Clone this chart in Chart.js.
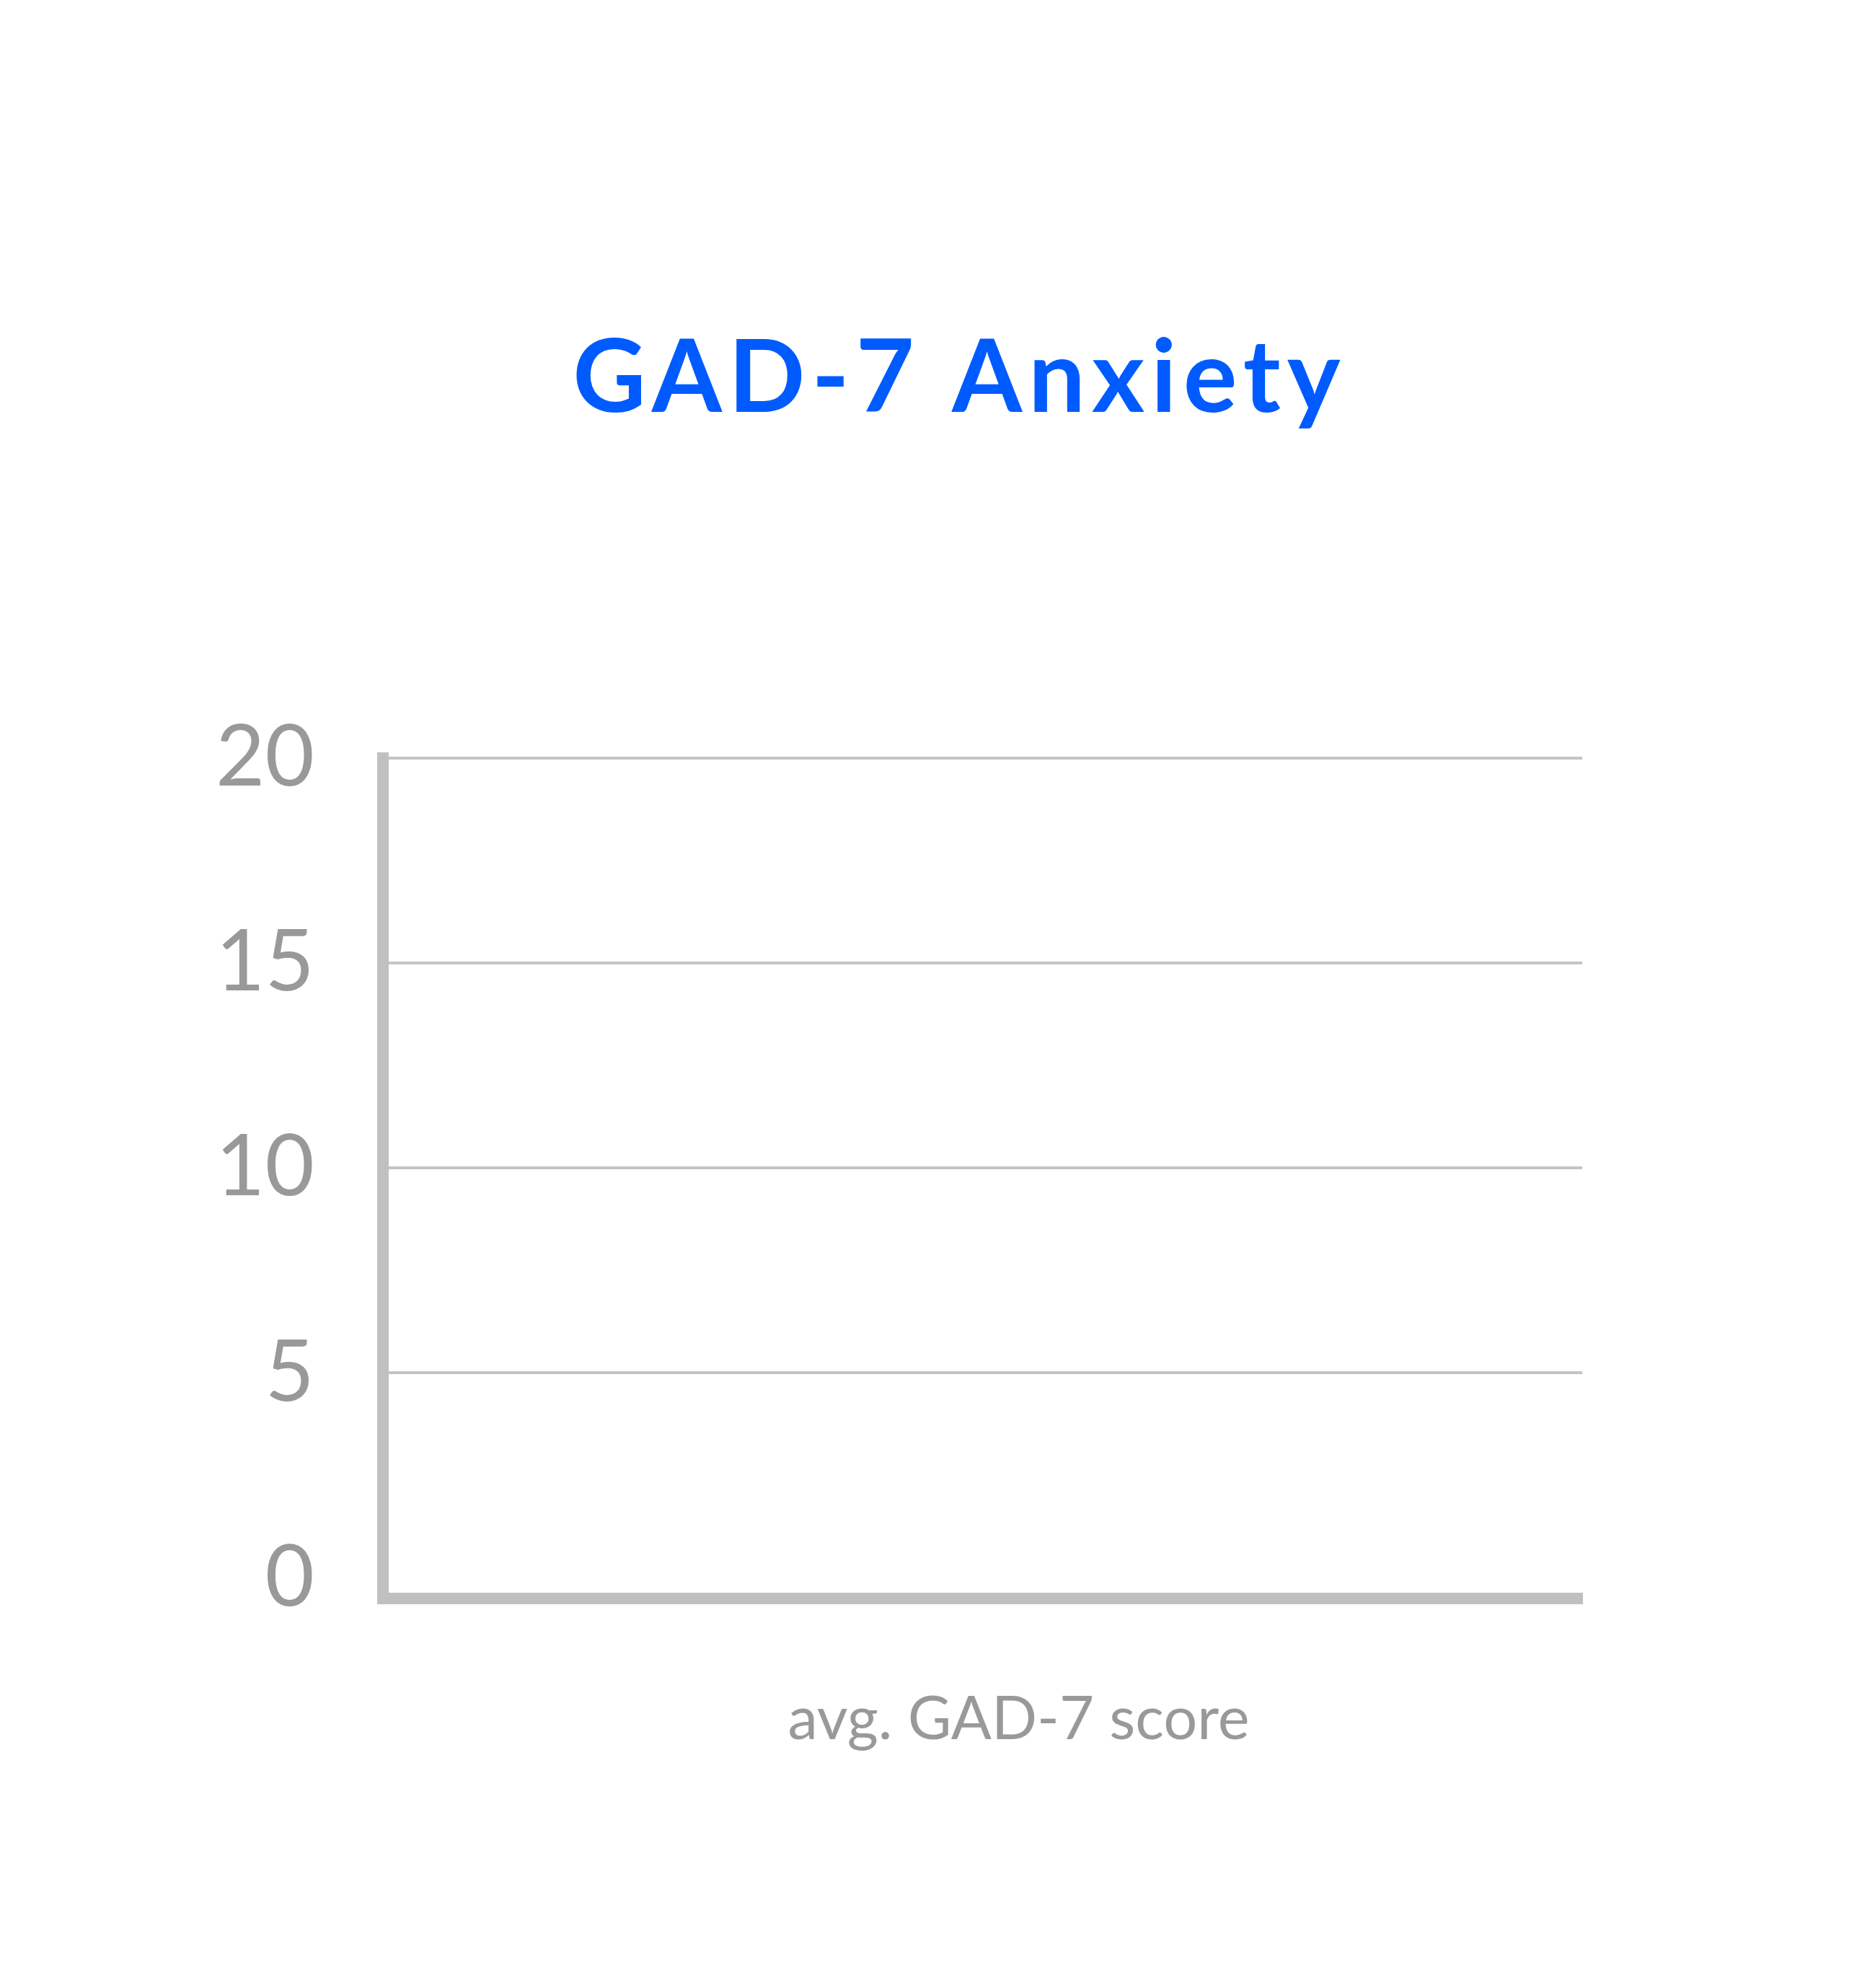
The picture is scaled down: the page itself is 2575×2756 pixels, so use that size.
<!DOCTYPE html>
<html>
<head>
<meta charset="utf-8">
<title>GAD-7 Anxiety</title>
<script src="https://cdn.jsdelivr.net/npm/chart.js@4/dist/chart.umd.min.js"></script>
<style>
  html, body { margin: 0; padding: 0; background: #fff; }
  canvas { display: block; }
</style>
</head>
<body>
<canvas id="gadChart" width="2575" height="2756"></canvas>
<script>
// chart data
const categories = ["avg. GAD-7 score"];
const scores = [null];          // no bar shown in the picture
const yTicks = [0, 5, 10, 15, 20];

const AXIS_GREY = "#c0c0c0";
const GRID_GREY = "#c4c4c4";
const TEXT_GREY = "#999999";
const TITLE_BLUE = "#005bff";

// wider tracking for the title only; tick labels are drawn later (ticks.z 1)
const titleSpacing = {
  id: "titleSpacing",
  beforeDraw(chart) { chart.ctx.letterSpacing = "9px"; },
  beforeDatasetsDraw(chart) { chart.ctx.letterSpacing = "0px"; }
};

const gadChart = new Chart(document.getElementById("gadChart"), {
  type: "bar",
  data: {
    labels: categories,
    datasets: [{
      data: scores,
      backgroundColor: TITLE_BLUE
    }]
  },
  plugins: [titleSpacing],
  options: {
    responsive: false,
    devicePixelRatio: 1,
    animation: false,
    layout: {
      padding: { left: 290, right: 203, top: 0, bottom: 240 }
    },
    plugins: {
      legend: { display: false },
      tooltip: { enabled: false },
      title: {
        display: true,
        text: "GAD-7 Anxiety",
        color: TITLE_BLUE,
        font: { family: "Lato", size: 140, weight: "bold", lineHeight: 1.2 },
        padding: { top: 442, bottom: 441 }
      }
    },
    scales: {
      x: {
        grid: { display: false, drawTicks: false },
        border: { display: true, width: 16, color: AXIS_GREY },
        ticks: {
          z: 1,
          color: TEXT_GREY,
          padding: 118,
          labelOffset: 50,
          font: { family: "Lato", size: 83 }
        },
        afterFit: scale => { scale.height = 300; }
      },
      y: {
        min: -0.5,
        max: 20,
        afterBuildTicks: scale => {
          scale.ticks = yTicks.map(v => ({ value: v }));
        },
        grid: {
          drawTicks: false,
          lineWidth: 4,
          color: ctx => (ctx.tick && ctx.tick.value === 0) ? "rgba(0,0,0,0)" : GRID_GREY
        },
        border: { display: true, width: 16, color: AXIS_GREY },
        ticks: {
          z: 1,
          color: TEXT_GREY,
          padding: 95,
          font: { family: "Lato", size: 118 }
        },
        afterFit: scale => { scale.width = 241; }
      },
      // empty spacer on the right so the title sits where it does in the picture
      spacer: {
        position: "right",
        display: true,
        grid: { display: false, drawTicks: false },
        border: { display: false },
        ticks: { display: false },
        afterFit: scale => { scale.width = 178; }
      }
    }
  }
});
</script>
</body>
</html>
